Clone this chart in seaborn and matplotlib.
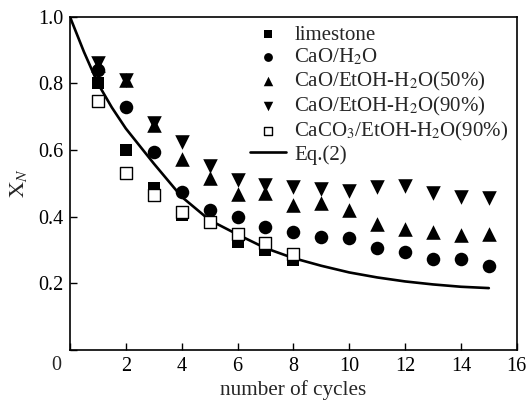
import numpy as np
import pandas as pd
import matplotlib
matplotlib.use("Agg")
import matplotlib.pyplot as plt
import seaborn as sns

# values
cycles_a = [1, 2, 3, 4, 5, 6, 7, 8]
limestone = [0.80, 0.60, 0.487, 0.405, None, 0.325, 0.30, 0.27]
caco3_etoh90 = [0.748, 0.53, 0.465, 0.415, 0.383, 0.347, 0.32, 0.288]

cycles_b = list(range(1, 16))
cao_h2o = [0.84, 0.73, 0.595, 0.475, 0.42, 0.40, 0.368, 0.353, 0.338, 0.335,
           0.305, 0.293, 0.274, 0.272, 0.253]
cao_etoh50 = [0.855, 0.81, 0.675, 0.573, 0.516, 0.468, 0.47, 0.435, 0.44, 0.42,
              0.378, 0.362, 0.355, 0.345, 0.347]
cao_etoh90 = [0.86, 0.81, 0.68, 0.625, 0.553, 0.51, 0.495, 0.49, 0.483, 0.478,
              0.49, 0.492, 0.47, 0.46, 0.455]

eq_n = [0, 0.5, 1, 1.5, 2, 3, 4, 5, 6, 7, 8, 9, 10, 11, 12, 13, 14, 15]
eq_x = [1.0, 0.895, 0.80, 0.728, 0.665, 0.56, 0.46, 0.39, 0.347, 0.306, 0.276,
        0.253, 0.233, 0.218, 0.206, 0.197, 0.19, 0.186]

sns.set_theme(style="ticks")
plt.rcParams['font.family'] = ['Liberation Serif', 'DejaVu Serif']
plt.rcParams['mathtext.fontset'] = 'stix'

fig = plt.figure(figsize=(5.30, 4.01), dpi=100)
ax = fig.add_axes([0.132, 0.127, 0.843, 0.831])

lime = pd.DataFrame({"n": cycles_a, "x": limestone}).dropna()
caco3 = pd.DataFrame({"n": cycles_a, "x": caco3_etoh90})
h2o = pd.DataFrame({"n": cycles_b, "x": cao_h2o})
e50 = pd.DataFrame({"n": cycles_b, "x": cao_etoh50})
e90 = pd.DataFrame({"n": cycles_b, "x": cao_etoh90})
eq = pd.DataFrame({"n": eq_n, "x": eq_x})

sns.scatterplot(data=lime, x="n", y="x", marker="s", s=85, color="black",
                edgecolor="black", linewidth=0, label="limestone", ax=ax, zorder=3)
sns.scatterplot(data=h2o, x="n", y="x", marker="o", s=95, color="black",
                edgecolor="black", linewidth=0, label="CaO/H$_2$O", ax=ax, zorder=3)
sns.scatterplot(data=e50, x="n", y="x", marker="^", s=110, color="black",
                edgecolor="black", linewidth=0, label="CaO/EtOH-H$_2$O(50%)", ax=ax, zorder=3)
sns.scatterplot(data=e90, x="n", y="x", marker="v", s=110, color="black",
                edgecolor="black", linewidth=0, label="CaO/EtOH-H$_2$O(90%)", ax=ax, zorder=3)
sns.scatterplot(data=caco3, x="n", y="x", marker="s", s=80, color="white",
                edgecolor="black", linewidth=1.0, label="CaCO$_3$/EtOH-H$_2$O(90%)", ax=ax, zorder=4)
sns.lineplot(data=eq, x="n", y="x", color="black", linewidth=1.9,
             label="Eq.(2)", ax=ax, zorder=2)

ax.set_xlim(0, 16)
ax.set_ylim(0, 1.0)
ax.set_xticks(range(0, 17, 2))
ax.set_xticklabels([""] + [str(v) for v in range(2, 17, 2)])
ax.set_yticks([0, 0.2, 0.4, 0.6, 0.8, 1.0])
ax.set_yticklabels(["", "0.2", "0.4", "0.6", "0.8", "1.0"])
ax.tick_params(direction="in", length=5, width=1, labelsize=14.5, colors="black", pad=5)
ax.text(-0.03, -0.045, "0", transform=ax.transAxes, ha="center", va="center", fontsize=14.5)
for sp in ax.spines.values():
    sp.set_visible(True)
    sp.set_linewidth(1.2)
    sp.set_color("black")

ax.set_xlabel("number of cycles", fontsize=15.3, labelpad=3)
ax.set_ylabel(r"$\mathrm{X}_N$", fontsize=16, labelpad=6)

leg = ax.legend(loc="upper right", frameon=False, fontsize=15, labelspacing=0.1,
                handlelength=1.75, handletextpad=0.38, borderaxespad=0.1, borderpad=0.3,
                markerscale=0.65)

fig.savefig("out.png", dpi=100)
